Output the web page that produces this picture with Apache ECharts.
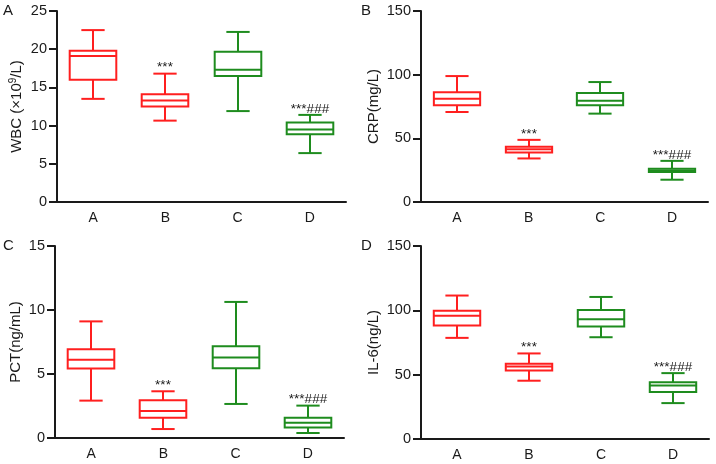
<!DOCTYPE html>
<html><head><meta charset="utf-8">
<script src="https://cdn.jsdelivr.net/npm/echarts@6/dist/echarts.min.js"></script>
<style>html,body{margin:0;padding:0;background:#fff}#c{width:716px;height:464px}</style>
</head><body><div id="c"></div>
<script>
const categories = ['A', 'B', 'C', 'D'];
const boxColors = ['#FF1F1F', '#FF1F1F', '#1E8C1E', '#1E8C1E'];
const annotations = ['', '***', '', '***###'];
const panelLetters = ['A', 'B', 'C', 'D'];

// Panel A: WBC
const wbcMin    = [13.5, 10.65, 11.9, 6.4];
const wbcQ1     = [16.0, 12.5, 16.5, 8.87];
const wbcMedian = [19.1, 13.3, 17.3, 9.5];
const wbcQ3     = [19.8, 14.1, 19.65, 10.4];
const wbcMax    = [22.5, 16.8, 22.26, 11.4];
const wbcTicks  = [0, 5, 10, 15, 20, 25];

// Panel B: CRP
const crpMin    = [70.7, 34.2, 69.4, 17.5];
const crpQ1     = [75.9, 38.9, 75.9, 23.5];
const crpMedian = [81.1, 41.5, 79.6, 24.8];
const crpQ3     = [86.1, 43.3, 85.6, 26.1];
const crpMax    = [98.9, 48.8, 94.2, 32.3];
const crpTicks  = [0, 50, 100, 150];

// Panel C: PCT
const pctMin    = [2.92, 0.70, 2.66, 0.39];
const pctQ1     = [5.42, 1.59, 5.44, 0.83];
const pctMedian = [6.12, 2.11, 6.28, 1.20];
const pctQ3     = [6.93, 2.94, 7.16, 1.59];
const pctMax    = [9.11, 3.65, 10.63, 2.53];
const pctTicks  = [0, 5, 10, 15];

// Panel D: IL-6
const il6Min    = [78.6, 45.3, 79.1, 27.9];
const il6Q1     = [88.2, 53.3, 87.4, 36.5];
const il6Median = [95.7, 56.4, 93.1, 41.6];
const il6Q3     = [99.6, 58.4, 100.3, 44.2];
const il6Max    = [111.5, 66.5, 110.4, 51.2];
const il6Ticks  = [0, 50, 100, 150];

const FONT = '"Liberation Sans", Arial, sans-serif';
const INK = '#1a1a1a';

const panels = [
  { mins: wbcMin, q1: wbcQ1, med: wbcMedian, q3: wbcQ3, maxs: wbcMax, ticks: wbcTicks,
    name: '{a|WBC (×10}{s|9}{a|/L)}', nameGap: 31,
    grid: { left: 57, top: 11, width: 289, height: 191 } },
  { mins: crpMin, q1: crpQ1, med: crpMedian, q3: crpQ3, maxs: crpMax, ticks: crpTicks,
    name: '{a|CRP(mg/L)}', nameGap: 38,
    grid: { left: 421, top: 11, width: 287, height: 191 } },
  { mins: pctMin, q1: pctQ1, med: pctMedian, q3: pctQ3, maxs: pctMax, ticks: pctTicks,
    name: '{a|PCT(ng/mL)}', nameGap: 30,
    grid: { left: 55, top: 246, width: 289, height: 192 } },
  { mins: il6Min, q1: il6Q1, med: il6Median, q3: il6Q3, maxs: il6Max, ticks: il6Ticks,
    name: '{a|IL-6(ng/L)}', nameGap: 38,
    grid: { left: 421, top: 246, width: 288, height: 193 } }
];

function renderBox(params, api) {
  const i = api.value(0);
  const lo = api.coord([i, api.value(1)]);
  const q1 = api.coord([i, api.value(2)]);
  const md = api.coord([i, api.value(3)]);
  const q3 = api.coord([i, api.value(4)]);
  const hi = api.coord([i, api.value(5)]);
  const band = api.size([1, 0])[0];
  const bw = band * 0.645, cw = bw * 0.5;
  const cx = Math.round(lo[0]);
  const color = boxColors[i];
  const ls = { stroke: color, lineWidth: 2, fill: null };
  const children = [
    { type: 'line', shape: { x1: cx, y1: hi[1], x2: cx, y2: q3[1] }, style: ls },
    { type: 'line', shape: { x1: cx, y1: q1[1], x2: cx, y2: lo[1] }, style: ls },
    { type: 'line', shape: { x1: cx - cw / 2, y1: hi[1], x2: cx + cw / 2, y2: hi[1] }, style: ls },
    { type: 'line', shape: { x1: cx - cw / 2, y1: lo[1], x2: cx + cw / 2, y2: lo[1] }, style: ls },
    { type: 'rect', shape: { x: cx - bw / 2, y: q3[1], width: bw, height: q1[1] - q3[1] },
      style: { stroke: color, lineWidth: 2, fill: '#fff' } },
    { type: 'line', shape: { x1: cx - bw / 2, y1: md[1], x2: cx + bw / 2, y2: md[1] }, style: ls }
  ];
  const note = annotations[i];
  if (note) {
    children.push({ type: 'text', style: { text: note, x: cx, y: hi[1] + 1, align: 'center',
      verticalAlign: 'bottom', fontSize: 13.5, fontFamily: FONT, fill: INK } });
  }
  return { type: 'group', children };
}

const option = {
  animation: false,
  backgroundColor: '#fff',
  grid: panels.map(p => p.grid),
  xAxis: panels.map((p, k) => ({
    type: 'category', gridIndex: k, data: categories, boundaryGap: true,
    axisLine: { lineStyle: { color: INK, width: 2 } },
    axisTick: { alignWithLabel: true, length: 6, lineStyle: { color: INK, width: 2 } },
    axisLabel: { fontSize: 14, color: INK, margin: 9, fontFamily: FONT },
    splitLine: { show: false }
  })),
  yAxis: panels.map((p, k) => ({
    type: 'value', gridIndex: k,
    min: p.ticks[0], max: p.ticks[p.ticks.length - 1], interval: p.ticks[1] - p.ticks[0],
    axisLine: { show: true, lineStyle: { color: INK, width: 2 } },
    axisTick: { show: true, length: 8, lineStyle: { color: INK, width: 2 } },
    axisLabel: { fontSize: 14.5, color: INK, margin: 10, fontFamily: FONT },
    splitLine: { show: false },
    name: p.name, nameLocation: 'middle', nameGap: p.nameGap,
    nameTextStyle: {
      rich: {
        a: { fontSize: 15, lineHeight: 18, color: INK, fontFamily: FONT },
        s: { fontSize: 10, lineHeight: 10, verticalAlign: 'top', color: INK, fontFamily: FONT }
      }
    }
  })),
  series: panels.map((p, k) => ({
    type: 'custom', xAxisIndex: k, yAxisIndex: k,
    renderItem: renderBox,
    encode: { x: 0, y: [1, 2, 3, 4, 5] },
    data: categories.map((c, i) => [i, p.mins[i], p.q1[i], p.med[i], p.q3[i], p.maxs[i]])
  })),
  graphic: [
    { type: 'text', left: 3, top: 3, style: { text: panelLetters[0], fontSize: 15, fontFamily: FONT, fill: INK } },
    { type: 'text', left: 361, top: 3, style: { text: panelLetters[1], fontSize: 15, fontFamily: FONT, fill: INK } },
    { type: 'text', left: 3, top: 238, style: { text: panelLetters[2], fontSize: 15, fontFamily: FONT, fill: INK } },
    { type: 'text', left: 361, top: 238, style: { text: panelLetters[3], fontSize: 15, fontFamily: FONT, fill: INK } }
  ]
};

const chart = echarts.init(document.getElementById('c'), null, { renderer: 'canvas' });
chart.setOption(option);
</script>
</body></html>
